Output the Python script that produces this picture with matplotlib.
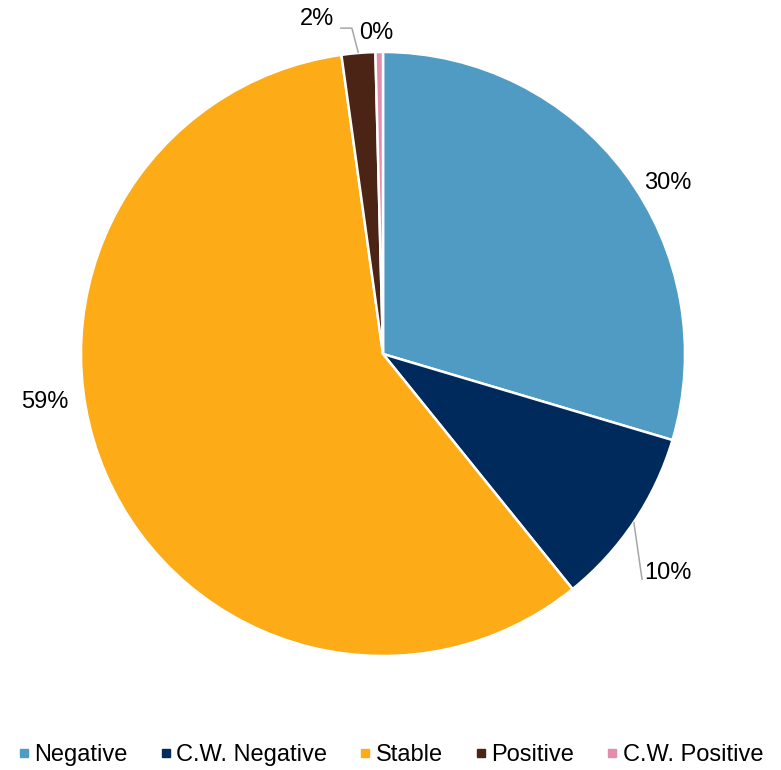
import numpy as np
import matplotlib.pyplot as plt
from matplotlib.lines import Line2D

plt.rcParams['font.family'] = ['Liberation Sans', 'DejaVu Sans']

categories = ['Negative', 'C.W. Negative', 'Stable', 'Positive', 'C.W. Positive']
shares = [29.6, 9.6, 58.6, 1.8, 0.4]
colors = ['#4F9BC3', '#002A5C', '#FDAB17', '#4B2415', '#E38CAB']

W, H = 781, 770
cx, cy, R = 383, 354, 302  # pie centre / radius in pixels

fig = plt.figure(figsize=(W / 100, H / 100), dpi=100)
ax = fig.add_axes([0, 0, 1, 1])

wedges, _ = ax.pie(shares, colors=colors, startangle=90, counterclock=False,
                   radius=1, center=(0, 0), frame=True,
                   wedgeprops=dict(edgecolor='white', linewidth=1.8))
ax.set_xlim(-cx / R, (W - cx) / R)
ax.set_ylim(-(H - cy) / R, cy / R)
ax.set_aspect('auto')
ax.axis('off')

total = sum(shares)
labels = ['%.0f%%' % (v / total * 100) for v in shares]

# label positions (data units, radius = 1)
label_pos = [(0.944, 0.566), (0.944, -0.725), (-1.119, -0.159), (-0.219, 1.109), (-0.023, 1.063)]
for lab, (x, y) in zip(labels, label_pos):
    ax.text(x, y, lab, ha='center', va='center', fontsize=17, color='black')

def mid_point(w):
    a = np.deg2rad((w.theta1 + w.theta2) / 2)
    return np.cos(a), np.sin(a)

# leader lines
lc = '#A6A6A6'
mx, my = mid_point(wedges[1])
ax.plot([mx, 0.858], [my, -0.748], color=lc, lw=1.1, solid_capstyle='butt')
mx, my = mid_point(wedges[3])
ax.plot([mx, -0.103, -0.142], [my, 1.079, 1.079], color=lc, lw=1.1, solid_capstyle='butt')

handles = [Line2D([], [], marker='s', linestyle='none', markersize=5.5,
                  markerfacecolor=c, markeredgecolor=c) for c in colors]
fig.legend(handles, categories, loc='center', bbox_to_anchor=(0.5, 1 - 755 / H),
           ncol=5, frameon=False, fontsize=17, handlelength=0.5,
           handletextpad=0.2, columnspacing=1.35, borderaxespad=0)

fig.savefig('out.png', dpi=100)
